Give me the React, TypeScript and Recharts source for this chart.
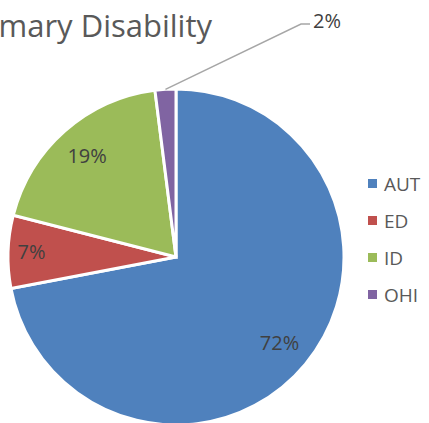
import { Legend, Pie, PieChart, Cell } from "recharts";

const categories = ["AUT", "ED", "ID", "OHI"];
const shares = [72, 7, 19, 2];
const colors = ["#4F81BD", "#C0504D", "#9BBB59", "#8064A2"];

const chartData = categories.map((name, i) => ({ name, value: shares[i] }));

const RAD = Math.PI / 180;
const FONT = "'Open Sans', 'Noto Sans', sans-serif";

// Excel "best fit" label radius, per slice
const labelR = [0.8, 0.86, 0.8, 0];

function SliceLabel(props: any) {
  const { cx, cy, midAngle, outerRadius, index, value } = props;
  const cos = Math.cos(-midAngle * RAD);
  const sin = Math.sin(-midAngle * RAD);
  if (index === 3) {
    // small slice: leader line out to the top
    const sx = cx + outerRadius * cos;
    const sy = cy + outerRadius * sin;
    const ex = cx + 125;
    const ey = 24;
    return (
      <g>
        <polyline
          points={`${sx},${sy} ${ex},${ey} ${ex + 9},${ey}`}
          fill="none"
          stroke="#A6A6A6"
          strokeWidth={1.5}
        />
        <text x={ex + 12} y={ey} dy={4} fill="#404040" fontSize={20} fontFamily={FONT}>
          {value}%
        </text>
      </g>
    );
  }
  const r = outerRadius * labelR[index];
  return (
    <text
      x={cx + r * cos}
      y={cy + r * sin}
      dy={7}
      textAnchor="middle"
      fill="#404040"
      fontSize={20}
      fontFamily={FONT}
    >
      {value}%
    </text>
  );
}

function LegendBox({ payload }: any) {
  return (
    <div style={{ fontFamily: FONT }}>
      {(payload || []).map((p: any) => (
        <div key={p.value} style={{ display: "flex", alignItems: "center", height: 37 }}>
          <span style={{ width: 9, height: 9, background: p.color, marginRight: 7 }} />
          <span style={{ fontSize: 19, color: "#595959" }}>{p.value}</span>
        </div>
      ))}
    </div>
  );
}

export default function App() {
  return (
    <div style={{ position: "absolute", left: 0, top: 0, width: 429, height: 423, overflow: "hidden", background: "#fff" }}>
      <svg width={429} height={60} style={{ position: "absolute", left: 0, top: 0 }}>
        <text x={212} y={37} textAnchor="end" fontSize={31} fill="#595959" fontFamily={FONT}>
          Primary Disability
        </text>
      </svg>
      <PieChart width={429} height={423} margin={{ top: 0, right: 0, bottom: 0, left: 0 }}>
        <Pie
          data={chartData}
          dataKey="value"
          nameKey="name"
          cx={176}
          cy={257}
          outerRadius={168}
          startAngle={90}
          endAngle={-270}
          stroke="#fff"
          strokeWidth={3}
          label={SliceLabel}
          labelLine={false}
          isAnimationActive={false}
        >
          {chartData.map((d, i) => (
            <Cell key={d.name} fill={colors[i]} />
          ))}
        </Pie>
        <Legend
          layout="vertical"
          align="right"
          verticalAlign="top"
          content={<LegendBox />}
          wrapperStyle={{ left: 368, top: 165, width: 60 }}
        />
      </PieChart>
    </div>
  );
}
